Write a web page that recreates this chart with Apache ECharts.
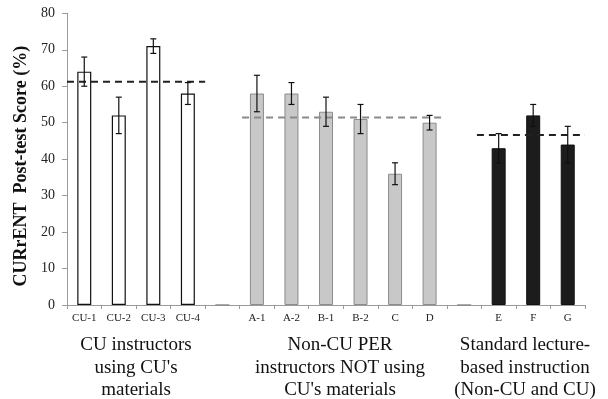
<!DOCTYPE html>
<html><head><meta charset="utf-8">
<script src="https://cdn.jsdelivr.net/npm/echarts@6/dist/echarts.min.js"></script>
<style>html,body{margin:0;padding:0;background:#fff}#c{width:608px;height:399px}</style>
</head><body><div id="c"></div>
<script>
var categories = ['CU-1','CU-2','CU-3','CU-4','','A-1','A-2','B-1','B-2','C','D','','E','F','G'];
var cuValues    = [64, 52, 71, 58, null, null, null, null, null, null, null, null, null, null, null];
var cuErrors    = [4, 5, 2, 3];
var perValues   = [null, null, null, null, 0, 58, 58, 53, 51, 36, 50, 0, null, null, null];
var perErrors   = [5, 3, 4, 4, 3, 2];
var stdValues   = [null, null, null, null, null, null, null, null, null, null, null, null, 43, 52, 44];
var stdErrors   = [4, 3, 5];
var cuMean = 61.2, perMean = 51.4, stdMean = 46.6;
var yTicks = [0,10,20,30,40,50,60,70,80];

var errData = [];
function addErr(vals, errs, start){
  for (var i=0;i<errs.length;i++){ var k=start+i; errData.push([k, vals[k]-errs[i], vals[k]+errs[i]]); }
}
addErr(cuValues, cuErrors, 0);
addErr(perValues, perErrors, 5);
addErr(stdValues, stdErrors, 12);

var serif = '"Liberation Serif","DejaVu Serif",serif';
var chart = echarts.init(document.getElementById('c'), null, {renderer:'canvas'});
chart.setOption({
  animation:false,
  grid:{left:67, top:13.3, right:23, bottom:94},
  xAxis:[{
    type:'category', data:categories,
    axisLine:{lineStyle:{color:'#9a9a9a', width:1}},
    axisTick:{show:true, length:4, lineStyle:{color:'#9a9a9a'}},
    axisLabel:{color:'#222', fontFamily:serif, fontSize:11, margin:8, interval:0}
  },{
    type:'value', min:0, max:15, show:false
  }],
  yAxis:{
    type:'value', min:yTicks[0], max:yTicks[yTicks.length-1], interval:10,
    splitLine:{show:false},
    axisLine:{show:true, lineStyle:{color:'#9a9a9a'}},
    axisTick:{show:true, length:5, lineStyle:{color:'#9a9a9a'}},
    axisLabel:{color:'#222', fontFamily:serif, fontSize:14, margin:12},
    name:'CURrENT  Post-test Score (%)', nameLocation:'middle', nameGap:34,
    nameTextStyle:{fontFamily:serif, fontWeight:'bold', fontSize:18, color:'#111', padding:[0,14,0,0]}
  },
  series:[
    {type:'bar', data:cuValues, barWidth:14, barGap:'-100%',
     itemStyle:{color:'#ffffff', borderColor:'#111', borderWidth:1.2}},
    {type:'bar', data:perValues, barWidth:14, barGap:'-100%',
     itemStyle:{color:'#c8c8c8', borderColor:'#8c8c8c', borderWidth:1}},
    {type:'bar', data:stdValues, barWidth:14, barGap:'-100%',
     itemStyle:{color:'#1c1c1c', borderColor:'#111', borderWidth:1}},
    {type:'custom', data:errData, z:10,
     renderItem:function(params, api){
       var x = api.value(0), lo = api.coord([x, api.value(1)]), hi = api.coord([x, api.value(2)]);
       var cap = 3;
       var st = {stroke:'#111', lineWidth:1.2};
       return {type:'group', children:[
         {type:'line', shape:{x1:lo[0], y1:lo[1], x2:hi[0], y2:hi[1]}, style:st},
         {type:'line', shape:{x1:lo[0]-cap, y1:lo[1], x2:lo[0]+cap, y2:lo[1]}, style:st},
         {type:'line', shape:{x1:hi[0]-cap, y1:hi[1], x2:hi[0]+cap, y2:hi[1]}, style:st}
       ]};
     }},
    {type:'line', xAxisIndex:1, data:[[0,cuMean],[4.0,cuMean]], symbol:'none', z:5,
     lineStyle:{color:'#222', width:2, type:[7,5]}},
    {type:'line', xAxisIndex:1, data:[[5.07,perMean],[10.86,perMean]], symbol:'none', z:5,
     lineStyle:{color:'#8a8a8a', width:2, type:[7,5]}},
    {type:'line', xAxisIndex:1, data:[[11.87,stdMean],[15.0,stdMean]], symbol:'none', z:5,
     lineStyle:{color:'#222', width:2, type:[7,5]}}
  ],
  graphic:[
    {type:'text', x:136, y:334, style:{text:"CU instructors\nusing CU's\nmaterials", font:'19px '+serif, fill:'#111', align:'center', lineHeight:22.5}},
    {type:'text', x:340, y:334, style:{text:"Non-CU PER\ninstructors NOT using\nCU's materials", font:'19px '+serif, fill:'#111', align:'center', lineHeight:22.5}},
    {type:'text', x:525, y:334, style:{text:"Standard lecture-\nbased instruction\n(Non-CU and CU)", font:'19px '+serif, fill:'#111', align:'center', lineHeight:22.5}}
  ]
});
</script></body></html>
